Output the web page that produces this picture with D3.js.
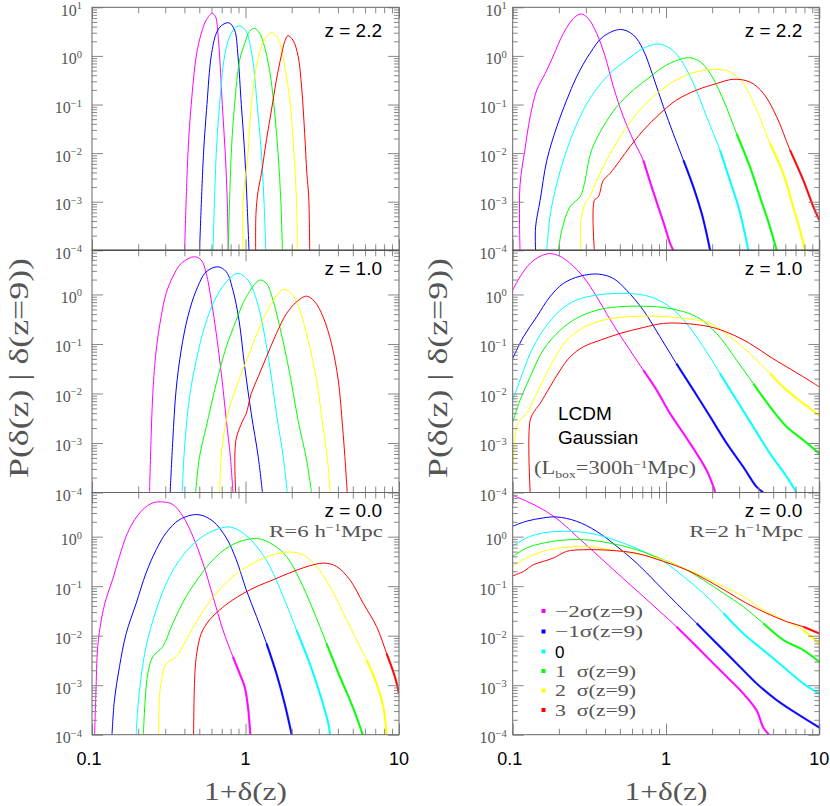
<!DOCTYPE html>
<html><head><meta charset="utf-8">
<script src="https://cdn.jsdelivr.net/npm/d3@7"></script>
<style>body{margin:0;background:#fff}svg{display:block}</style>
</head><body><svg id="c" width="830" height="806"></svg>
<script>
// ---------- labels / categories ----------
const xTickValues = [0.1, 1, 10];
const xTickLabels = ["0.1", "1", "10"];
const yExpTop = [1, 0, -1, -2, -3, -4];
const yExpLow = [0, -1, -2, -3, -4];
const redshiftLabels = ["z = 2.2", "z = 1.0", "z = 0.0"];
const smoothingLabels = ["R=6  h", "R=2  h"];
const seriesLabels = ["\u22122\u03c3(z=9)", "\u22121\u03c3(z=9)", "0", "1  \u03c3(z=9)", "2  \u03c3(z=9)", "3  \u03c3(z=9)"];
const seriesColors = ["#ff00ff", "#0000ff", "#00ffff", "#00ff00", "#ffff00", "#ff0000"];

// ---------- data: [1+delta, P] per series (magenta, blue, cyan, green, yellow, red) ----------
const left22 = [
 [[0.401,1e-4],[0.422,0.01],[0.443,0.1],[0.478,1.0],[0.515,2.9],[0.555,5.5],[0.607,7.5],[0.638,6.4],[0.661,2.9],[0.678,1.0],[0.706,0.1],[0.738,0.01],[0.761,1e-3],[0.772,1e-4]],
 [[0.502,1e-4],[0.533,0.01],[0.561,0.1],[0.598,1.0],[0.645,2.9],[0.696,4.2],[0.78,4.8],[0.849,3.4],[0.893,1.0],[0.939,0.1],[0.988,0.01],[1.023,1e-3],[1.054,1e-4]],
 [[0.614,1e-4],[0.645,0.01],[0.678,0.1],[0.731,1.0],[0.789,2.5],[0.863,3.9],[0.925,4.1],[1.012,3.2],[1.076,1.55],[1.13,0.6],[1.19,0.1],[1.27,0.01],[1.32,1e-3],[1.355,1e-4]],
 [[0.772,1e-4],[0.808,0.01],[0.849,0.1],[0.916,0.82],[0.988,1.8],[1.064,3.2],[1.148,3.7],[1.237,2.9],[1.33,1.55],[1.44,0.47],[1.53,0.1],[1.63,0.01],[1.70,1e-3],[1.74,1e-4]],
 [[0.963,1e-4],[0.966,1.1e-3],[1.038,0.01],[1.09,0.1],[1.177,0.6],[1.27,1.55],[1.37,2.5],[1.50,3.05],[1.63,2.3],[1.74,1.13],[1.85,0.37],[1.96,0.1],[2.07,0.01],[2.15,1e-3],[2.18,1e-4]],
 [[1.165,1e-4],[1.17,5.7e-4],[1.206,1.6e-3],[1.27,3.8e-3],[1.37,0.019],[1.476,0.077],[1.59,0.32],[1.71,1.0],[1.80,1.96],[1.89,2.6],[2.04,2.1],[2.20,1.0],[2.32,0.23],[2.43,0.025],[2.51,3.8e-3],[2.58,1.3e-3],[2.62,1e-4]]
];
const left10 = [
 [[0.237,1e-4],[0.249,0.01],[0.262,0.075],[0.282,0.354],[0.304,1.05],[0.336,2.27],[0.381,4.23],[0.466,5.77],[0.515,4.94],[0.555,2.66],[0.598,0.77],[0.645,0.163],[0.696,0.0254],[0.75,2.89e-3],[0.797,5.3e-4],[0.828,1e-4]],
 [[0.323,1e-4],[0.336,1.14e-3],[0.353,0.0117],[0.381,0.075],[0.421,0.354],[0.478,1.22],[0.555,2.87],[0.661,3.62],[0.75,2.87],[0.828,1.22],[0.907,0.303],[0.988,0.0346],[1.09,3.95e-3],[1.21,5.3e-4],[1.29,1e-4]],
 [[0.387,1e-4],[0.401,8.4e-4],[0.432,8.6e-3],[0.478,0.047],[0.541,0.222],[0.63,0.77],[0.75,1.80],[0.893,2.66],[1.038,1.95],[1.18,0.77],[1.30,0.222],[1.44,0.0346],[1.59,3.95e-3],[1.76,5.3e-4],[1.87,1e-4]],
 [[0.473,1e-4],[0.502,5.3e-4],[0.555,2.12e-3],[0.645,0.0159],[0.75,0.0877],[0.871,0.303],[1.012,0.90],[1.237,1.95],[1.37,1.67],[1.51,0.77],[1.71,0.163],[1.94,0.0254],[2.20,2.89e-3],[2.50,4.5e-4],[2.69,1e-4]],
 [[0.678,1e-4],[0.695,5.3e-4],[0.75,2.89e-3],[0.871,0.0136],[1.038,0.055],[1.237,0.222],[1.476,0.66],[1.76,1.26],[1.99,1.05],[2.26,0.48],[2.56,0.119],[2.90,0.0186],[3.2,2.12e-3],[3.46,3.3e-4],[3.55,1e-4]],
 [[0.863,1e-4],[0.866,1.14e-3],[0.963,2.89e-3],[1.012,3.95e-3],[1.09,0.01],[1.21,0.0217],[1.37,0.055],[1.59,0.163],[1.85,0.41],[2.15,0.71],[2.50,0.925],[2.83,0.71],[3.2,0.354],[3.63,0.102],[4.02,0.0186],[4.29,2.12e-3],[4.44,5.3e-4],[4.60,1e-4]]
];
const left00 = [
 [[0.104,1e-4],[0.106,6.8e-4],[0.109,6.0e-3],[0.115,0.0208],[0.123,0.053],[0.136,0.134],[0.151,0.40],[0.167,1.02],[0.184,1.89],[0.214,3.52],[0.249,4.81],[0.289,5.04],[0.336,4.46],[0.391,2.58],[0.454,1.02],[0.528,0.292],[0.614,0.062],[0.713,0.013],[0.828,3.75e-3],[0.916,1.72e-3],[0.988,9.2e-4],[1.038,3.6e-4],[1.075,1e-4]],
 [[0.135,1e-4],[0.140,5.0e-4],[0.151,2.36e-3],[0.167,0.0111],[0.194,0.045],[0.225,0.184],[0.262,0.545],[0.304,1.19],[0.372,2.21],[0.49,2.79],[0.614,2.05],[0.75,0.94],[0.871,0.342],[1.012,0.084],[1.18,0.0243],[1.37,7.0e-3],[1.59,1.72e-3],[1.80,4.2e-4],[2.0,1e-4]],
 [[0.194,1e-4],[0.199,3.6e-4],[0.209,1.48e-3],[0.225,6.0e-3],[0.262,0.033],[0.32,0.157],[0.411,0.505],[0.528,1.02],[0.645,1.39],[0.789,1.57],[0.963,1.19],[1.18,0.64],[1.44,0.25],[1.76,0.062],[2.15,0.013],[2.62,2.75e-3],[3.05,6.8e-4],[3.46,1.7e-4],[3.55,1e-4]],
 [[0.216,1e-4],[0.222,5.0e-4],[0.231,1.72e-3],[0.249,3.75e-3],[0.289,6.0e-3],[0.336,0.0178],[0.411,0.062],[0.502,0.157],[0.614,0.342],[0.789,0.64],[1.012,0.87],[1.237,0.90],[1.51,0.69],[1.85,0.40],[2.26,0.134],[2.76,0.033],[3.37,7.0e-3],[4.12,1.48e-3],[4.79,5.0e-4],[5.29,2.3e-4],[5.8,1e-4]],
 [[0.272,1e-4],[0.275,5.8e-4],[0.289,1.72e-3],[0.304,2.75e-3],[0.353,3.75e-3],[0.411,8.2e-3],[0.502,0.0243],[0.645,0.072],[0.828,0.157],[1.12,0.292],[1.51,0.43],[1.94,0.49],[2.37,0.43],[2.9,0.25],[3.55,0.098],[4.34,0.0284],[5.29,8.2e-3],[6.15,3.2e-3],[7.15,1.08e-3],[7.9,3.6e-4],[8.3,1e-4]],
 [[0.459,1e-4],[0.466,1.26e-3],[0.478,3.75e-3],[0.515,0.0111],[0.583,0.0208],[0.678,0.033],[0.828,0.053],[1.12,0.091],[1.51,0.134],[2.04,0.198],[2.76,0.27],[3.29,0.292],[3.92,0.25],[4.79,0.134],[5.85,0.045],[7.15,0.0152],[8.3,4.4e-3],[9.4,1.48e-3],[10,6.8e-4]]
];
const right22 = [
 [[0.1116,1e-4],[0.1116,2.2e-3],[0.12,0.0115],[0.13,0.056],[0.1435,0.198],[0.163,0.436],[0.184,1.0],[0.214,2.9],[0.249,5.9],[0.278,7.3],[0.311,5.9],[0.353,2.9],[0.40,1.0],[0.454,0.23],[0.527,0.056],[0.612,0.0186],[0.711,7.1e-3],[0.807,2.0e-3],[0.891,7.8e-4],[0.985,3.0e-4],[1.062,1.4e-4],[1.116,1e-4]],
 [[0.141,1e-4],[0.141,3e-4],[0.151,1.07e-3],[0.167,7.1e-3],[0.194,0.035],[0.225,0.123],[0.261,0.37],[0.319,1.13],[0.39,2.5],[0.506,3.5],[0.612,2.7],[0.711,1.32],[0.826,0.37],[0.962,0.09],[1.116,0.025],[1.30,7.1e-3],[1.51,2.0e-3],[1.71,5.7e-4],[1.84,2.2e-4],[1.94,1e-4]],
 [[0.167,1e-4],[0.175,4.9e-4],[0.194,2.35e-3],[0.225,0.0115],[0.275,0.056],[0.336,0.17],[0.431,0.436],[0.553,0.82],[0.711,1.43],[0.891,1.76],[1.062,1.43],[1.23,0.89],[1.51,0.27],[1.84,0.056],[2.25,0.0115],[2.61,2.75e-3],[2.97,7.8e-4],[3.27,2.2e-4],[3.44,1e-4]],
 [[0.199,1e-4],[0.209,2.6e-4],[0.236,7.8e-4],[0.275,1.26e-3],[0.29,2e-3],[0.327,0.0115],[0.39,0.035],[0.477,0.09],[0.612,0.198],[0.787,0.37],[1.01,0.65],[1.40,0.92],[1.67,0.76],[1.94,0.436],[2.37,0.123],[2.89,0.025],[3.53,5.2e-3],[4.10,1.26e-3],[4.77,3e-4],[5.27,1e-4]],
 [[0.279,1e-4],[0.279,4.2e-4],[0.297,9.2e-4],[0.319,1.26e-3],[0.353,2.75e-3],[0.41,7.1e-3],[0.501,0.0216],[0.644,0.065],[0.869,0.169],[1.17,0.32],[1.585,0.47],[2.09,0.53],[2.61,0.47],[3.19,0.27],[3.90,0.077],[4.77,0.0158],[5.82,3.8e-3],[6.76,7.8e-4],[7.48,2.6e-4],[8.07,1e-4]],
 [[0.341,1e-4],[0.341,1.07e-3],[0.362,1.26e-3],[0.39,2.75e-3],[0.431,3.8e-3],[0.501,7.1e-3],[0.582,0.0135],[0.711,0.0295],[0.914,0.065],[1.17,0.123],[1.585,0.198],[2.14,0.27],[2.75,0.33],[3.53,0.29],[4.32,0.169],[5.27,0.056],[6.44,0.0115],[7.87,2.75e-3],[9.15,7.8e-4],[10,4.2e-4]]
];
const right10 = [
 [[0.1,1.22],[0.1116,2.27],[0.13,4.23],[0.151,5.9],[0.175,6.7],[0.204,5.9],[0.237,4.23],[0.289,2.27],[0.353,0.90],[0.41,0.41],[0.477,0.19],[0.582,0.075],[0.711,0.0296],[0.869,0.0117],[1.062,3.95e-3],[1.30,1.56e-3],[1.585,6.1e-4],[1.84,2.8e-4],[2.04,1.3e-4],[2.09,1e-4]],
 [[0.1,0.051],[0.1175,0.14],[0.1435,0.354],[0.175,0.90],[0.214,1.67],[0.275,2.34],[0.362,2.58],[0.454,2.1],[0.553,1.22],[0.711,0.48],[0.914,0.14],[1.17,0.04],[1.51,0.0117],[1.94,3.4e-3],[2.49,9.8e-4],[3.19,3.3e-4],[3.90,1.3e-4],[4.31,1e-4]],
 [[0.1,7.3e-3],[0.1116,0.0186],[0.13,0.064],[0.158,0.19],[0.204,0.48],[0.261,0.77],[0.353,0.97],[0.553,1.05],[0.787,0.90],[1.062,0.56],[1.36,0.26],[1.75,0.088],[2.25,0.0254],[2.89,7.3e-3],[3.71,2.12e-3],[4.77,6.1e-4],[6.12,2.1e-4],[7.1,1e-4]],
 [[0.1,2.68e-3],[0.1116,7.3e-3],[0.13,0.0217],[0.158,0.075],[0.204,0.19],[0.261,0.33],[0.353,0.48],[0.477,0.56],[0.711,0.58],[1.062,0.52],[1.585,0.354],[2.14,0.163],[2.89,0.047],[3.71,0.0159],[4.77,5.4e-3],[6.12,2.12e-3],[7.87,1.14e-3],[10,6.1e-4]],
 [[0.1,2.8e-4],[0.106,2.12e-3],[0.1116,2.89e-3],[0.123,3.95e-3],[0.1435,0.01],[0.175,0.0346],[0.225,0.119],[0.289,0.215],[0.39,0.303],[0.553,0.354],[0.869,0.365],[1.30,0.33],[1.94,0.26],[2.61,0.14],[3.53,0.064],[4.77,0.0254],[6.12,0.0117],[7.87,6.3e-3],[10,3.6e-3]],
 [[0.13,1e-4],[0.13,2.89e-3],[0.14,4.6e-3],[0.151,6.3e-3],[0.175,0.0136],[0.204,0.0296],[0.237,0.055],[0.289,0.0877],[0.372,0.119],[0.501,0.163],[0.711,0.215],[0.962,0.26],[1.30,0.26],[1.94,0.222],[2.61,0.163],[3.53,0.102],[4.77,0.055],[6.12,0.0346],[7.87,0.0217],[10,0.0136]]
];
const right00 = [
 [[0.1,6.8],[0.123,5.2],[0.158,3.52],[0.204,2.05],[0.261,1.02],[0.336,0.505],[0.431,0.25],[0.553,0.124],[0.711,0.062],[0.914,0.0306],[1.17,0.0152],[1.51,7.0e-3],[1.94,3.2e-3],[2.49,1.48e-3],[3.19,6.8e-4],[3.90,3.1e-4],[4.31,1.4e-4],[4.7,1e-4]],
 [[0.1,1.62],[0.123,2.05],[0.158,2.39],[0.194,2.5],[0.261,2.05],[0.353,1.28],[0.477,0.64],[0.644,0.292],[0.869,0.115],[1.17,0.045],[1.585,0.0178],[2.14,7.0e-3],[2.89,2.75e-3],[3.90,1.08e-3],[5.27,5.0e-4],[7.1,2.7e-4],[10,1.4e-4]],
 [[0.1,0.64],[0.123,0.94],[0.158,1.19],[0.237,1.28],[0.353,1.1],[0.527,0.74],[0.711,0.505],[0.962,0.316],[1.30,0.157],[1.75,0.072],[2.37,0.0284],[3.19,0.0111],[4.31,5.1e-3],[5.82,2.36e-3],[7.87,1.08e-3],[10,6.8e-4]],
 [[0.1,0.40],[0.123,0.59],[0.158,0.74],[0.204,0.84],[0.289,0.87],[0.431,0.74],[0.644,0.545],[0.962,0.342],[1.30,0.23],[1.75,0.134],[2.37,0.072],[3.19,0.0387],[4.31,0.0178],[5.82,8.2e-3],[7.87,5.1e-3],[10,2.97e-3]],
 [[0.1,0.25],[0.123,0.37],[0.158,0.505],[0.204,0.59],[0.289,0.64],[0.431,0.545],[0.644,0.45],[0.962,0.342],[1.30,0.23],[1.75,0.157],[2.37,0.098],[3.19,0.062],[4.31,0.033],[5.82,0.0208],[7.87,0.013],[10,7.0e-3]],
 [[0.1,0.162],[0.1175,0.198],[0.136,0.27],[0.158,0.316],[0.184,0.37],[0.225,0.505],[0.289,0.545],[0.431,0.53],[0.644,0.46],[0.962,0.316],[1.36,0.214],[1.84,0.134],[2.49,0.078],[3.36,0.045],[4.54,0.0284],[6.12,0.0192],[7.87,0.0152],[10,0.0111]]
];

// ---------- layout ----------
const colX = [[92, 399], [512.7, 819.3]];
const rowY = [[7.3, 250.3], [250.3, 492.5], [492.5, 734.7]];
const yDomainTop = [1e-4, 10];
const yDomainLow = [1e-4, 7.8];
const serif = "'Liberation Serif','DejaVu Serif',serif";
const sans = "'Liberation Sans',Arial,sans-serif";
const grey = "#555";

const svg = d3.select("#c");
const panels = [
  {col:0,row:0,data:left22,tail:0},{col:0,row:1,data:left10,tail:0},{col:0,row:2,data:left00,tail:3e-3},
  {col:1,row:0,data:right22,tail:6e-3},{col:1,row:1,data:right10,tail:0.012},{col:1,row:2,data:right00,tail:0.012}
];
const minorX = [];
[0.1, 1].forEach(d => { for (let k = 2; k <= 9; k++) minorX.push(+(k*d).toPrecision(3)); });

panels.forEach(p => {
  const [x0, x1] = colX[p.col], [y0, y1] = rowY[p.row];
  const x = d3.scaleLog().domain([0.1, 10]).range([x0, x1]);
  const y = d3.scaleLog().domain(p.row === 0 ? yDomainTop : yDomainLow).range([y1, y0]);
  const id = `clip${p.col}${p.row}`;
  svg.append("clipPath").attr("id", id).append("rect")
    .attr("x", x0).attr("y", y0).attr("width", x1 - x0).attr("height", y1 - y0);
  const gCurves = svg.append("g").attr("clip-path", `url(#${id})`);
  const line = d3.line().x(d => x(d[0])).y(d => y(d[1])).curve(d3.curveCatmullRom.alpha(0.5));
  p.data.forEach((s, i) => {
    gCurves.append("path").attr("d", line(s)).attr("fill", "none")
      .attr("stroke", seriesColors[i]).attr("stroke-width", 1);
    if (p.tail > 0) {
      // noisy low-probability tail is drawn as a heavier band
      const peak = d3.maxIndex(s, d => d[1]);
      let start = s.findIndex((d, k) => k > peak && d[1] < p.tail);
      if (start > 0) {
        const seg = s.slice(start - 1);
        gCurves.append("path").attr("d", line(seg)).attr("fill", "none")
          .attr("stroke", seriesColors[i]).attr("stroke-width", 2.2).attr("stroke-opacity", 0.85);
      }
    }
  });

  // ticks
  const exps = p.row === 0 ? yExpTop : yExpLow;
  const majorY = exps.map(e => Math.pow(10, e));
  const minorY = [];
  for (let e = -4; e <= 0; e++) for (let k = 2; k <= 9; k++) {
    const v = k * Math.pow(10, e);
    if (v <= y.domain()[1]) minorY.push(v);
  }
  const tickG = svg.append("g").attr("class", "ticks");
  const addAxis = (axis, tx, ty) => {
    const g = tickG.append("g").attr("transform", `translate(${tx},${ty})`).call(axis);
    g.select(".domain").remove();
    g.selectAll("line").attr("stroke", "#888");
    g.selectAll("text").remove();
  };
  addAxis(d3.axisBottom(x).tickValues(xTickValues).tickSize(-11), 0, y1);
  addAxis(d3.axisBottom(x).tickValues(minorX).tickSize(-6), 0, y1);
  addAxis(d3.axisTop(x).tickValues(xTickValues).tickSize(-11), 0, y0);
  addAxis(d3.axisTop(x).tickValues(minorX).tickSize(-6), 0, y0);
  addAxis(d3.axisLeft(y).tickValues(majorY).tickSize(-11), x0, 0);
  addAxis(d3.axisLeft(y).tickValues(minorY).tickSize(-5), x0, 0);
  addAxis(d3.axisRight(y).tickValues(majorY).tickSize(-11), x1, 0);
  addAxis(d3.axisRight(y).tickValues(minorY).tickSize(-5), x1, 0);

  // frame
  svg.append("rect").attr("x", x0).attr("y", y0).attr("width", x1 - x0).attr("height", y1 - y0)
    .attr("fill", "none").attr("stroke", "#666").attr("stroke-width", 1);
  if (p.row < 2) {
    svg.append("line").attr("x1", x0).attr("x2", x1).attr("y1", y1).attr("y2", y1)
      .attr("stroke", "#000").attr("stroke-width", 1.2);
  }

  // y tick labels
  const lx = x0 - (p.col === 0 ? 10 : 6);
  exps.forEach(e => {
    const t = svg.append("text").attr("x", lx).attr("y", y(Math.pow(10, e)) + 8.5)
      .attr("text-anchor", "end").attr("font-family", serif).attr("font-size", 16).attr("fill", grey);
    t.append("tspan").text("10");
    t.append("tspan").attr("dy", -6.5).attr("font-size", 10.5)
      .text(e < 0 ? "\u2212" + (-e) : String(e));
  });

  // x tick labels on bottom row
  if (p.row === 2) {
    xTickValues.forEach((v, i) => {
      svg.append("text").attr("x", x(v) + (i === 0 ? -3 : 0)).attr("y", y1 + 30.5)
        .attr("text-anchor", "middle").attr("font-family", sans).attr("font-size", 18)
        .attr("fill", "#000").text(xTickLabels[i]);
    });
    svg.append("text").attr("x", (x0 + x1) / 2).attr("y", 800)
      .attr("text-anchor", "middle").attr("font-family", serif).attr("font-size", 26)
      .attr("fill", grey).attr("textLength", 83).attr("lengthAdjust", "spacingAndGlyphs").text("1+\u03b4(z)");
    const sm = svg.append("text").attr("x", x1 - 16).attr("y", y(1) + 0.5)
      .attr("text-anchor", "end").attr("font-family", serif).attr("font-size", 17).attr("fill", grey)
      .attr("textLength", 114).attr("lengthAdjust", "spacingAndGlyphs");
    sm.append("tspan").text(smoothingLabels[p.col]);
    sm.append("tspan").attr("dy", -6).attr("font-size", 10.5).text("\u22121");
    sm.append("tspan").attr("dy", 6).text("Mpc");
  }

  // redshift label
  svg.append("text").attr("x", x1 - 17).attr("y", y(2.45))
    .attr("text-anchor", "end").attr("font-family", sans).attr("font-size", 19)
    .attr("fill", "#000").text(redshiftLabels[p.row]);

  // y title in middle row
  if (p.row === 1) {
    const tx = p.col === 0 ? 28 : 447;
    svg.append("text").attr("transform", `translate(${tx},368) rotate(-90)`)
      .attr("text-anchor", "middle").attr("font-family", serif).attr("font-size", 27)
      .attr("fill", grey).attr("textLength", 220).attr("lengthAdjust", "spacingAndGlyphs")
      .text("P(\u03b4(z)  |  \u03b4(z=9))");
  }
});

// annotations in middle-right panel
svg.append("text").attr("x", 558).attr("y", 420).attr("font-family", sans).attr("font-size", 19)
  .attr("fill", "#000").text("LCDM");
svg.append("text").attr("x", 558).attr("y", 444).attr("font-family", sans).attr("font-size", 19)
  .attr("fill", "#000").text("Gaussian");
const lb = svg.append("text").attr("x", 534).attr("y", 474).attr("font-family", serif)
  .attr("font-size", 18).attr("fill", grey).attr("textLength", 162).attr("lengthAdjust", "spacingAndGlyphs");
lb.append("tspan").text("(L");
lb.append("tspan").attr("dy", 4).attr("font-size", 11).text("box");
lb.append("tspan").attr("dy", -4).text("=300h");
lb.append("tspan").attr("dy", -6).attr("font-size", 10.5).text("\u22121");
lb.append("tspan").attr("dy", 6).text("Mpc)");

// legend (bottom-right panel)
const legendY = [611, 631.5, 651.5, 671, 690.5, 710];
const legendWidth = [88, 88, 0, 81, 81, 81];
seriesLabels.forEach((lab, i) => {
  svg.append("rect").attr("x", 541.5).attr("y", legendY[i] - 2).attr("width", 4).attr("height", 4)
    .attr("fill", seriesColors[i]);
  const isZero = lab === "0";
  const t = svg.append("text").attr("x", 555).attr("y", legendY[i] + (isZero ? 6 : 5.5))
    .attr("font-family", isZero ? sans : serif).attr("font-size", 17)
    .attr("fill", isZero ? "#000" : grey).attr("xml:space", "preserve")
    .style("white-space", "pre").text(lab);
  if (legendWidth[i]) t.attr("textLength", legendWidth[i]).attr("lengthAdjust", "spacingAndGlyphs");
});
</script></body></html>
